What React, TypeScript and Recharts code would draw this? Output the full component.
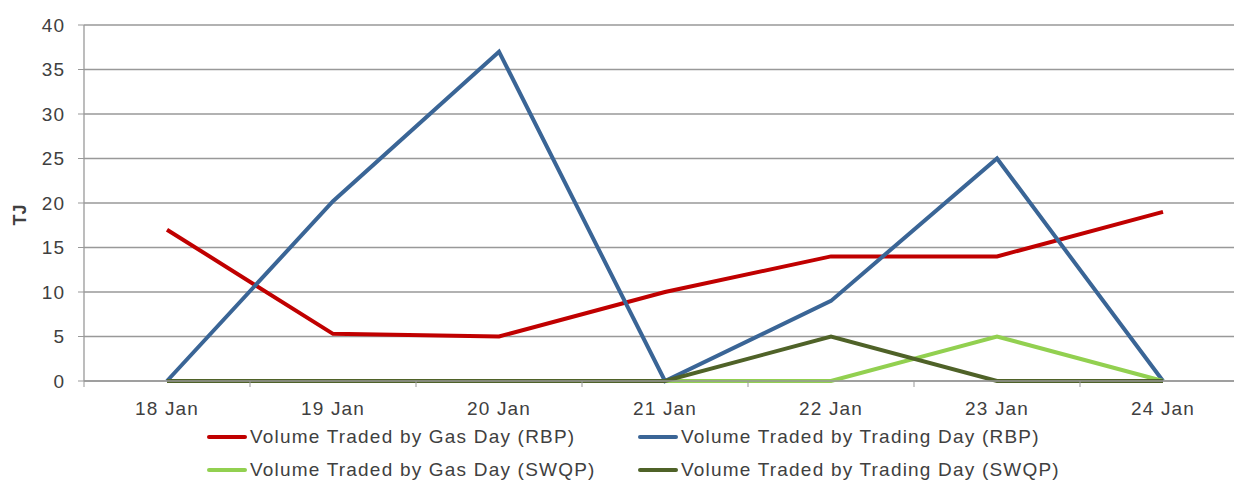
import { LineChart, Line, XAxis, YAxis, CartesianGrid } from "recharts";

const days = ["18 Jan", "19 Jan", "20 Jan", "21 Jan", "22 Jan", "23 Jan", "24 Jan"];
const gasDayRbp = [17, 5.3, 5, 10, 14, 14, 19];
const tradingDayRbp = [0, 20.2, 37, 0, 9, 25, 0];
const gasDaySwqp = [0, 0, 0, 0, 0, 5, 0];
const tradingDaySwqp = [0, 0, 0, 0, 5, 0, 0];
const yTicks = [0, 5, 10, 15, 20, 25, 30, 35, 40];

const data = days.map((day, i) => ({
  day,
  gasRbp: gasDayRbp[i],
  tradeRbp: tradingDayRbp[i],
  gasSwqp: gasDaySwqp[i],
  tradeSwqp: tradingDaySwqp[i],
}));

// legend reads row by row: RBP pair, then SWQP pair
const series = [
  { key: "gasRbp", name: "Volume Traded by Gas Day (RBP)", color: "#C00000" },
  { key: "tradeRbp", name: "Volume Traded by Trading Day (RBP)", color: "#3A6596" },
  { key: "gasSwqp", name: "Volume Traded by Gas Day (SWQP)", color: "#92D050" },
  { key: "tradeSwqp", name: "Volume Traded by Trading Day (SWQP)", color: "#4F6228" },
];

const FONT = '"Liberation Sans", Arial, sans-serif';
const TEXT = "#404040";
const GRID = "#999999";
const HALF_STEP = 83;

function DayTick(props: any) {
  const { x, y, payload, index } = props;
  return (
    <g>
      <line x1={x - HALF_STEP} y1={y} x2={x - HALF_STEP} y2={y + 6} stroke={GRID} />
      {index === days.length - 1 && (
        <line x1={x + HALF_STEP} y1={y} x2={x + HALF_STEP} y2={y + 6} stroke={GRID} />
      )}
      <text
        x={x}
        y={y + 34}
        textAnchor="middle"
        fill={TEXT}
        fontSize={19}
        fontFamily={FONT}
        letterSpacing={1.2}
      >
        {payload.value}
      </text>
    </g>
  );
}

export default function App() {
  return (
    <div
      style={{
        position: "absolute",
        left: 0,
        top: 0,
        width: 1234,
        height: 482,
        overflow: "hidden",
        background: "#fff",
      }}
    >
      <LineChart
        width={1262}
        height={482}
        data={data}
        margin={{ top: 25, right: 16, bottom: 71, left: 0 }}
      >
        <CartesianGrid vertical={false} stroke={GRID} strokeWidth={1.3} />
        <XAxis
          dataKey="day"
          padding={{ left: HALF_STEP, right: HALF_STEP }}
          axisLine={{ stroke: GRID, strokeWidth: 1.3 }}
          tickLine={false}
          tickSize={0}
          tickMargin={0}
          height={30}
          tick={<DayTick />}
          interval={0}
        />
        <YAxis
          width={84}
          domain={[0, 40]}
          ticks={yTicks}
          interval={0}
          axisLine={{ stroke: GRID, strokeWidth: 1.3 }}
          tickLine={{ stroke: GRID }}
          tickSize={6}
          tickMargin={13}
          tick={{ fill: TEXT, fontSize: 19, fontFamily: FONT, letterSpacing: 1 }}
          label={{
            value: "TJ",
            angle: -90,
            position: "insideLeft",
            offset: 20,
            dy: 12,
            style: { fill: TEXT, fontSize: 18, fontWeight: "bold", fontFamily: FONT, textAnchor: "middle" },
          }}
        />
        {series.map((s) => (
          <Line
            key={s.key}
            name={s.name}
            dataKey={s.key}
            stroke={s.color}
            strokeWidth={4}
            dot={false}
            isAnimationActive={false}
          />
        ))}
      </LineChart>
      <div
        style={{
          position: "absolute",
          left: 207,
          top: 426,
          display: "grid",
          gridTemplateColumns: "431px 431px",
          rowGap: 12,
          fontFamily: FONT,
          fontSize: 19,
          letterSpacing: 1.2,
          color: TEXT,
        }}
      >
        {series.map((s) => (
          <div key={s.key} style={{ display: "flex", alignItems: "center", height: 21 }}>
            <span
              style={{
                display: "inline-block",
                width: 40,
                height: 4,
                borderRadius: 2,
                background: s.color,
                marginRight: 3,
              }}
            />
            <span style={{ whiteSpace: "nowrap" }}>{s.name}</span>
          </div>
        ))}
      </div>
    </div>
  );
}
